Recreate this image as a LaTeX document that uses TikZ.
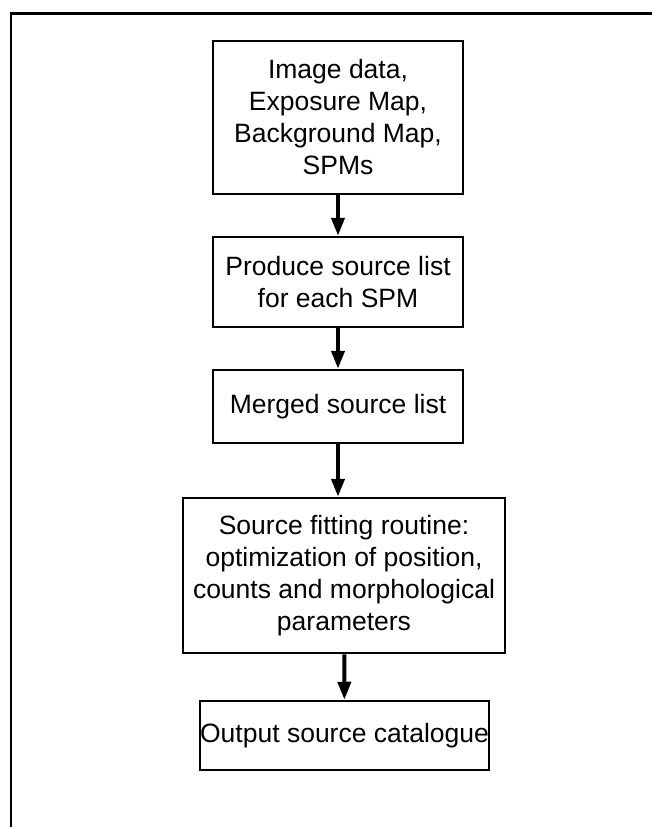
\documentclass[tikz,border=0pt]{standalone}
\usepackage{fontspec}
\setmainfont{Liberation Sans}
\usetikzlibrary{arrows.meta}

\tikzset{
  stepbox/.style={draw, line width=2.5pt, align=center, inner sep=0pt,
    font=\fontsize{26.5}{32}\selectfont},
  flow/.style={line width=4pt, -{Triangle[length=18pt,width=13pt]}}
}

\begin{document}
\begin{tikzpicture}[x=1pt, y=-1pt]
        \useasboundingbox (0,0) rectangle (652,827);

        % Frame
        \draw[line width=2.5pt] (652,13.5) -- (11,13.5) -- (11,827);

        % Input data
        \node[stepbox, minimum width=250pt, minimum height=153pt] (input) at (338,117.5) {Image data, \\ Exposure Map, \\ Background Map, \\ SPMs};

        % Per-SPM lists
        \node[stepbox, minimum width=250pt, minimum height=90pt] (lists) at (338,282) {Produce source list \\ for each SPM};

        % Merged list
        \node[stepbox, minimum width=250pt, minimum height=73pt] (merged) at (338,406.5) {Merged source list};

        % Fitting
        \node[stepbox, minimum width=322pt, minimum height=155pt] (fitting) at (344,575.5) {Source fitting routine: \\ optimization of position, \\ counts and morphological \\ parameters};

        % Catalogue
        \node[stepbox, minimum width=285pt, minimum height=69pt] (catalogue) at (344.5,735.5) {Output source catalogue};

        % Arrows
        \draw[flow] (input) -- (lists);
        \draw[flow] (lists) -- (merged);
        \draw[flow] (merged.south) -- (merged.south |- fitting.north);
        \draw[flow] (fitting) -- (catalogue);
    \end{tikzpicture}
\end{document}
